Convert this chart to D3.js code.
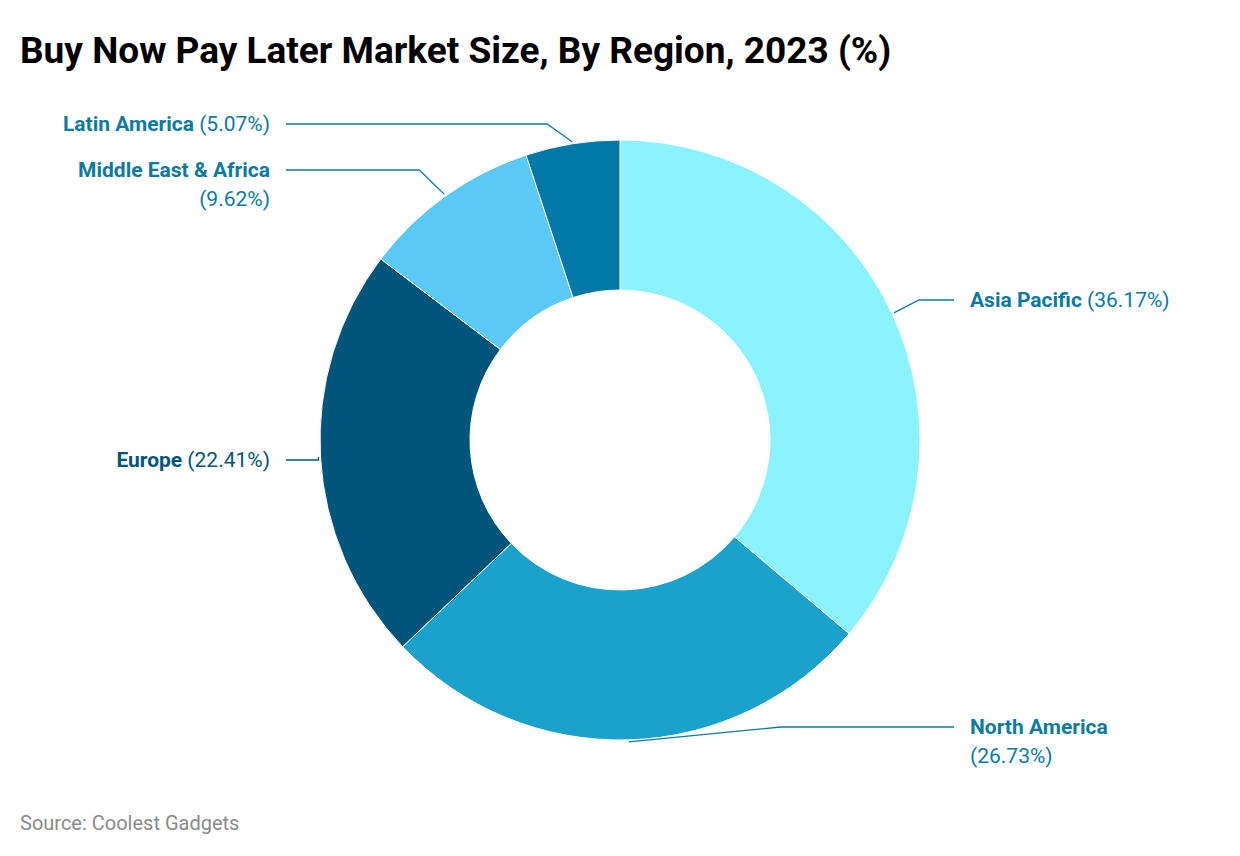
<!DOCTYPE html>
<html><head><meta charset="utf-8">
<script src="https://cdn.jsdelivr.net/npm/d3@7"></script>
<style>body{margin:0;background:#fff;font-family:Roboto,sans-serif}</style>
</head><body><svg id="c" width="1240" height="856"></svg>
<script>
const regions = ["Asia Pacific","North America","Europe","Middle East & Africa","Latin America"];
const shares = [36.17,26.73,22.41,9.62,5.07];
const colors = ["#8af3ff","#1aa1cc","#01557b","#5bc9f5","#0278a8"];
const labelColors = ["#0b7aa3","#0b7aa3","#01557b","#0b7aa3","#0b7aa3"];

const svg = d3.select("#c");
const W=1240,H=856, cx=620, cy=440, R=300, r=150;
svg.append("text").attr("x",20).attr("y",63).attr("font-size",37).attr("font-weight",700).attr("fill","#000").text("Buy Now Pay Later Market Size, By Region, 2023 (%)");
svg.append("text").attr("x",20).attr("y",830).attr("font-size",20).attr("fill","#8a8a8a").text("Source: Coolest Gadgets");

const pie = d3.pie().sort(null).value(d=>d)(shares);
const arc = d3.arc().innerRadius(r).outerRadius(R);
const g = svg.append("g").attr("transform",`translate(${cx},${cy})`);
g.selectAll("path").data(pie).join("path").attr("d",arc).attr("fill",(d,i)=>colors[i]).attr("stroke","#fff").attr("stroke-width",1);

// label layout: elbow y offset and text side, line anchor uses angle
const layout = [
 {ang:null, ey:-140, side:1, lines:1},
 {ang:null, ey:287, side:1, lines:2},
 {ang:null, ey:20, side:-1, lines:1},
 {ang:null, ey:-270, side:-1, lines:2},
 {ang:null, ey:-316, side:-1, lines:1}
];
pie.forEach((d,i)=>{
  const a=(d.startAngle+d.endAngle)/2;
  const px=Math.sin(a)*(R+2), py=-Math.cos(a)*(R+2);
  const L=layout[i];
  const sx=px, sy=py;
  const ex = i===1 ? px+150*0+152 : px + L.side*(i===2?0:25);
  const ey = L.ey;
  const tx = L.side>0 ? 342 : -342;
  const lx = L.side>0 ? tx-8 : tx+(i===2?8:8);
  g.append("polyline").attr("points",`${sx},${sy} ${ex},${ey} ${lx},${ey}`).attr("fill","none").attr("stroke",labelColors[i]).attr("stroke-width",1.3);
  const t=g.append("text").attr("x",tx+(L.side<0?-8:8)-(L.side<0?-8:8)+ (L.side>0?8:-8)).attr("y",ey+7).attr("font-size",21).attr("fill",labelColors[i]).attr("text-anchor",L.side>0?"start":"end");
  if(L.lines===1){
    t.append("tspan").attr("font-weight",700).text(regions[i]);
    t.append("tspan").text(` (${shares[i].toFixed(2)}%)`);
  } else {
    t.append("tspan").attr("font-weight",700).text(regions[i]);
    t.append("tspan").attr("x",tx+(L.side>0?8:-8)).attr("dy",29).text(`(${shares[i].toFixed(2)}%)`);
  }
});
</script></body></html>
